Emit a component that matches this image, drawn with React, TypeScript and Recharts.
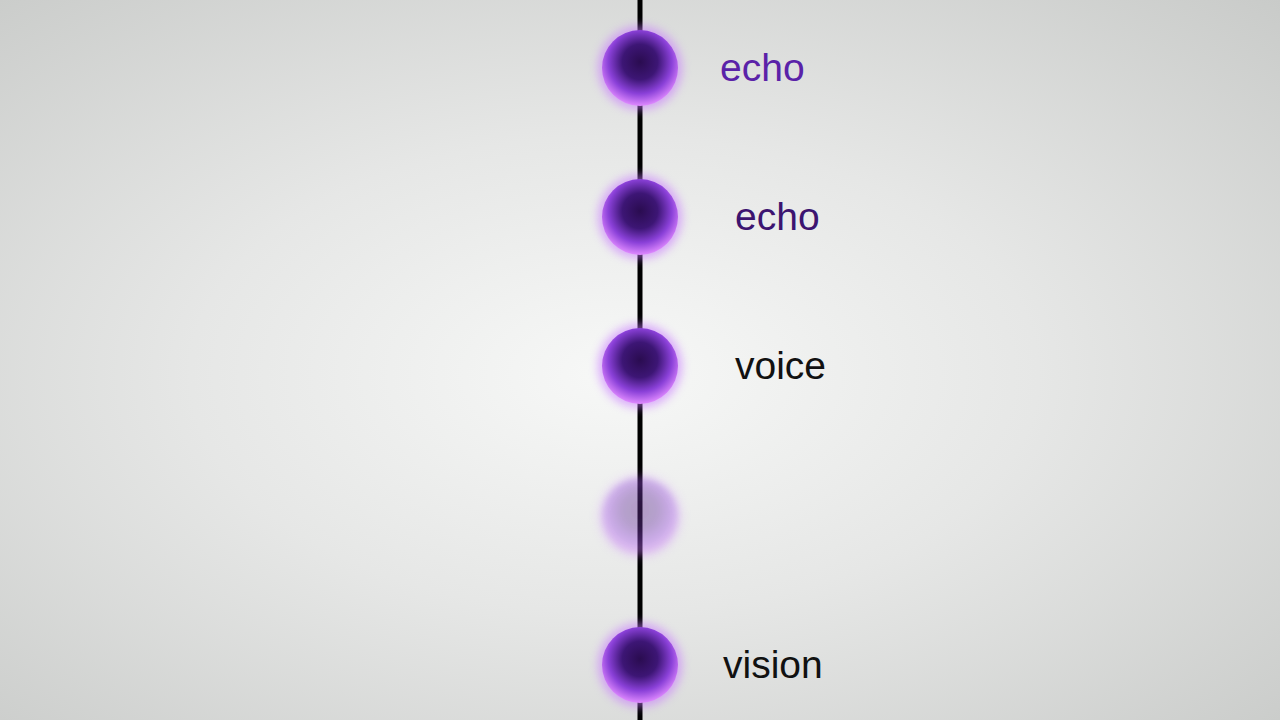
import React from "react";
import { ReferenceLine, Scatter, ScatterChart, XAxis, YAxis } from "recharts";

const nodeY = [68, 217, 366, 516, 665];
const nodeFaded = [false, false, false, true, false];
const labels = ["echo", "echo", "voice", "", "vision"];
const labelX = [720, 735, 735, 0, 723];
const labelColors = ["#5a22a8", "#3c1470", "#111111", "#111111", "#111111"];

const data = nodeY.map((y, i) => ({
  x: 640,
  y,
  faded: nodeFaded[i],
  label: labels[i],
  lx: labelX[i],
  color: labelColors[i],
}));

const Node = (props: any) => {
  const { cx, cy, payload, xAxis } = props;
  const lx = xAxis && xAxis.scale ? xAxis.scale(payload.lx) : payload.lx;
  return (
    <g>
      <circle
        cx={cx}
        cy={cy}
        r={42}
        fill="#c878ff"
        opacity={payload.faded ? 0.2 : 0.6}
        filter="url(#glow)"
      />
      <circle
        cx={cx}
        cy={cy}
        r={38}
        fill="url(#ball)"
        opacity={payload.faded ? 0.28 : 1}
        filter={payload.faded ? "url(#soft)" : undefined}
      />
      {payload.label && (
        <text
          x={lx}
          y={cy + 13}
          fontSize={39}
          fill={payload.color}
          fontFamily="Liberation Sans, Arial, sans-serif"
        >
          {payload.label}
        </text>
      )}
    </g>
  );
};

export default function App() {
  return (
    <div
      style={{
        position: "absolute",
        left: 0,
        top: 0,
        width: 1280,
        height: 720,
        background:
          "radial-gradient(ellipse at 48% 52%, #f7f8f7 0%, #e6e7e6 45%, #c9cbc9 100%)",
      }}
    >
      <ScatterChart width={1280} height={720} margin={{ top: 0, right: 0, bottom: 0, left: 0 }}>
        <defs>
          <radialGradient id="ball" cx="50%" cy="42%" r="58%">
            <stop offset="0%" stopColor="#2a0c50" />
            <stop offset="40%" stopColor="#3d1675" />
            <stop offset="72%" stopColor="#8a40d8" />
            <stop offset="100%" stopColor="#e08aff" />
          </radialGradient>
          <filter id="glow" x="-50%" y="-50%" width="200%" height="200%">
            <feGaussianBlur stdDeviation="5" />
          </filter>
          <filter id="soft" x="-50%" y="-50%" width="200%" height="200%">
            <feGaussianBlur stdDeviation="3" />
          </filter>
        </defs>
        <XAxis type="number" dataKey="x" domain={[0, 1280]} hide />
        <YAxis type="number" dataKey="y" domain={[0, 720]} reversed hide />
        <ReferenceLine x={640} stroke="#000000" strokeWidth={5} />
        <Scatter data={data} shape={<Node />} isAnimationActive={false} />
      </ScatterChart>
    </div>
  );
}
